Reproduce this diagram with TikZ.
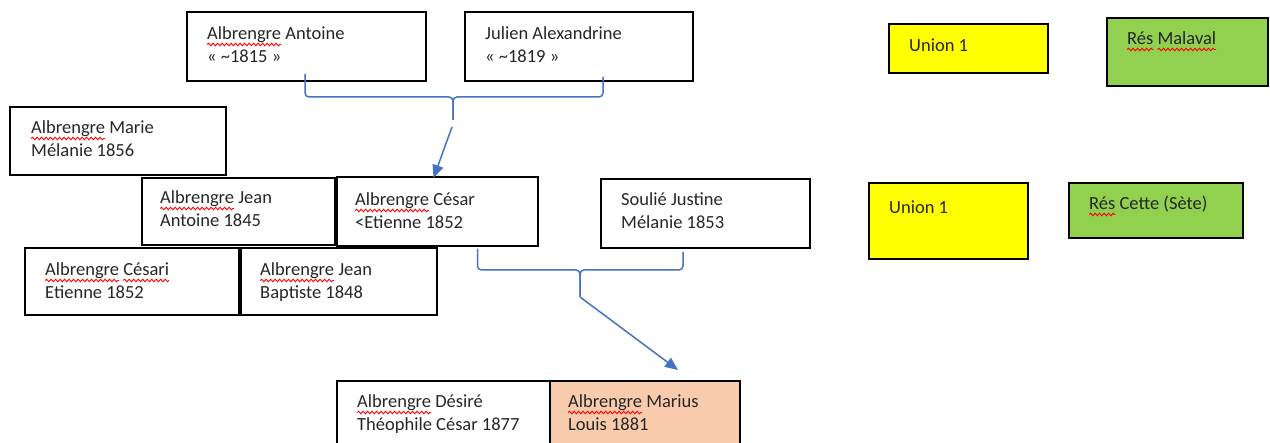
\documentclass[tikz,border=0pt]{standalone}
\usepackage{fontspec}
\setmainfont{Carlito}
\usetikzlibrary{calc,arrows.meta,decorations.pathmorphing}
\definecolor{lineblue}{HTML}{4472C4}
\definecolor{peach}{HTML}{F8CBAD}
\definecolor{leaf}{HTML}{92D050}
\definecolor{lemon}{HTML}{FFFF00}
\definecolor{inkgray}{HTML}{262626}
\newsavebox\splbox
\newcommand\spl[1]{\sbox\splbox{#1}\rlap{\tikz[baseline=0pt,x=1pt,y=1pt]{\useasboundingbox (0,0); \draw[red, line width=0.9pt, decorate, decoration={snake, amplitude=1.3pt, segment length=4.5pt}] (0,-4.5) -- (\the\wd\splbox,-4.5);}}\usebox\splbox}
\begin{document}
\begin{tikzpicture}[x=1pt,y=-1pt,
  box/.style={draw=black, line width=1.3pt, anchor=north west, inner sep=0pt, outer sep=0pt},
  txt/.style={anchor=base west, align=left, inner sep=0pt, font=\fontsize{18.5}{23}\selectfont, text=inkgray},
  conn/.style={draw=lineblue, line width=1.5pt, rounded corners=4pt},
  arr/.style={draw=lineblue, line width=1.5pt, -{Triangle[length=13pt,width=11pt]}}]
\useasboundingbox (0,0) rectangle (1270,443);
\clip (0,0) rectangle (1270,443);
% boxes
\node[box, minimum width=239, minimum height=69] (antoine) at (187,12) {};
\node[box, minimum width=228, minimum height=69] (julien) at (465,12) {};
\node[box, minimum width=216, minimum height=68] (marie) at (10,107) {};
\node[box, minimum width=193, minimum height=67] (jeanant) at (142,178) {};
\node[box, minimum width=201, minimum height=69] (cesar) at (337,177) {};
\node[box, minimum width=209, minimum height=69] (soulie) at (601,179) {};
\node[box, minimum width=214, minimum height=67] (cesari) at (25,248) {};
\node[box, minimum width=196, minimum height=67] (jeanbap) at (241,248) {};
\node[box, minimum width=213, minimum height=80] (desire) at (337,381) {};
\node[box, fill=peach, minimum width=190, minimum height=80] (marius) at (550,381) {};
\node[box, fill=lemon, minimum width=159, minimum height=49] (union1) at (889,24) {};
\node[box, fill=leaf, minimum width=161, minimum height=68] (malaval) at (1107,18) {};
\node[box, fill=lemon, minimum width=159, minimum height=76] (union2) at (869,183) {};
\node[box, fill=leaf, minimum width=174, minimum height=55] (cette) at (1069,183) {};
% texts (base anchor = baseline of the second line)
\node[txt] (tantoine) at ($(antoine.north west)+(20,51)$) {\spl{Albrengre} Antoine\\« \textasciitilde1815 »};
\node[txt] (tjulien) at ($(julien.north west)+(20,51)$) {Julien Alexandrine\\« \textasciitilde1819 »};
\node[txt] (tmarie) at ($(marie.north west)+(21,50)$) {\spl{Albrengre} Marie\\Mélanie 1856};
\node[txt] (tjeanant) at ($(jeanant.north west)+(18,49)$) {\spl{Albrengre} Jean\\Antoine 1845};
\node[txt] (tcesar) at ($(cesar.north west)+(18,52)$) {\spl{Albrengre} César\\<Etienne 1852};
\node[txt] (tsoulie) at ($(soulie.north west)+(20,50)$) {Soulié Justine\\Mélanie 1853};
\node[txt] (tcesari) at ($(cesari.north west)+(20,51)$) {\spl{Albrengre} \spl{Césari}\\Etienne 1852};
\node[txt] (tjeanbap) at ($(jeanbap.north west)+(19,51)$) {\spl{Albrengre} Jean\\Baptiste 1848};
\node[txt] (tdesire) at ($(desire.north west)+(20,50)$) {\spl{Albrengre} Désiré\\Théophile César 1877};
\node[txt] (tmarius) at ($(marius.north west)+(18,50)$) {\spl{Albrengre} Marius\\Louis 1881};
\node[txt] (tunion1) at ($(union1.north west)+(20,28)$) {Union 1};
\node[txt] (tmalaval) at ($(malaval.north west)+(20,27)$) {\spl{Rés} \spl{Malaval}};
\node[txt] (tunion2) at ($(union2.north west)+(20,31)$) {Union 1};
\node[txt] (tcette) at ($(cette.north west)+(20,27)$) {\spl{Rés} Cette (Sète)};
% union brace 1
\coordinate (b1) at (453,97);
\coordinate (b1s) at (453,120);
\coordinate (a1s) at (452,127);
\draw[conn] ($(antoine.south)+(-1.5,-7)$) |- (b1) -- (b1s);
\draw[conn] ($(julien.south)+(24,-4)$) |- (b1) -- (b1s);
\draw[arr] (a1s) -- ($(cesar.north)+(-4,1)$);
% union brace 2
\coordinate (b2) at (580,270);
\coordinate (b2s) at (580,297);
\draw[conn] ($(cesar.south)+(40,3)$) |- (b2) -- (b2s);
\draw[conn] ($(soulie.south)+(-22.5,4)$) |- (b2) -- (b2s);
\draw[arr] (b2s) -- ($(marius.north)+(33,-11)$);
\end{tikzpicture}
\end{document}
